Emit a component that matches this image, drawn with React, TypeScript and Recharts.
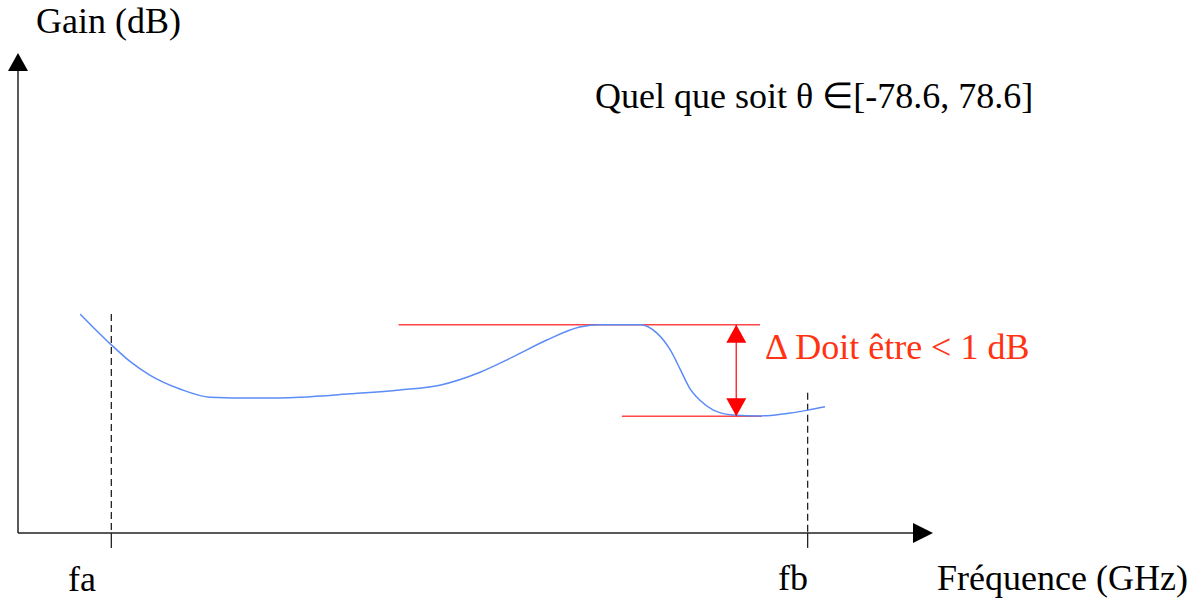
import { LineChart, Line, XAxis, YAxis, ReferenceLine, ReferenceDot } from "recharts";

// schematic gain curve, arbitrary units (frequency 0-100, gain 0-100)
const freq = [6.8, 10.2, 12.2, 14.4, 17.7, 21.0, 26.4, 30.8, 36.3, 41.7, 46.1, 50.5, 54.1, 57.8, 61.4, 63.6, 68.0, 69.8, 71.3, 72.4, 73.4, 74.5, 76.0, 78.1, 81.1, 84.4, 86.3, 88.2];
const gain = [45.6, 39.2, 35.8, 32.9, 30.0, 28.3, 28.1, 28.3, 29.0, 29.8, 30.8, 33.5, 36.7, 40.2, 42.9, 43.4, 43.4, 41.7, 38.1, 34.0, 30.2, 27.7, 25.6, 24.6, 24.4, 25.0, 25.6, 26.3];

const fa = 10.2;
const fb = 86.3;
const faTop = 45.6;
const fbTop = 29.2;
const gainMax = 43.4;
const gainMin = 24.3;
const maxLine = [41.6, 81.1];
const minLine = [66.0, 81.3];
const deltaX = 78.5;

const data = freq.map((f, i) => ({ f, g: gain[i] }));

const font = "'Liberation Serif', 'Times New Roman', serif";

const upArrow = (color: string) => (p: any) => (
  <polygon points={`${p.cx},${p.cy} ${p.cx - 10},${p.cy + 18} ${p.cx + 10},${p.cy + 18}`} fill={color} />
);
const downArrow = (color: string) => (p: any) => (
  <polygon points={`${p.cx},${p.cy} ${p.cx - 10},${p.cy - 18} ${p.cx + 10},${p.cy - 18}`} fill={color} />
);
const rightArrow = (color: string) => (p: any) => (
  <polygon points={`${p.cx},${p.cy} ${p.cx - 20},${p.cy - 10} ${p.cx - 20},${p.cy + 10}`} fill={color} />
);

export default function App() {
  return (
    <div style={{ position: "absolute", left: 0, top: 0, background: "#fff" }}>
      <LineChart width={1200} height={600} data={data} margin={{ top: 53, right: 267, bottom: 67, left: 18 }}>
        <XAxis type="number" dataKey="f" domain={[0, 100]} hide />
        <YAxis type="number" domain={[0, 100]} hide />

        {/* axes */}
        <ReferenceLine segment={[{ x: 0, y: 0 }, { x: 99, y: 0 }]} stroke="#222" strokeWidth={1.5} ifOverflow="visible" />
        <ReferenceLine segment={[{ x: 0, y: 0 }, { x: 0, y: 98 }]} stroke="#222" strokeWidth={1.5} ifOverflow="visible" />
        <ReferenceDot x={0} y={100} r={1} shape={upArrow("#000")} ifOverflow="visible" />
        <ReferenceDot x={100} y={0} r={1} shape={rightArrow("#000")} ifOverflow="visible" />

        {/* fa / fb markers */}
        <ReferenceLine segment={[{ x: fa, y: faTop }, { x: fa, y: 0 }]} stroke="#222" strokeDasharray="7 4" strokeWidth={1.3} ifOverflow="visible" />
        <ReferenceLine segment={[{ x: fb, y: fbTop }, { x: fb, y: 0 }]} stroke="#222" strokeDasharray="7 4" strokeWidth={1.3} ifOverflow="visible" />
        <ReferenceLine segment={[{ x: fa, y: 0 }, { x: fa, y: -3.1 }]} stroke="#222" strokeWidth={1.3} ifOverflow="visible" />
        <ReferenceLine segment={[{ x: fb, y: 0 }, { x: fb, y: -3.1 }]} stroke="#222" strokeWidth={1.3} ifOverflow="visible" />

        {/* max / min levels */}
        <ReferenceLine segment={[{ x: maxLine[0], y: gainMax }, { x: maxLine[1], y: gainMax }]} stroke="#ff4545" strokeWidth={1.5} ifOverflow="visible" />
        <ReferenceLine segment={[{ x: minLine[0], y: gainMin }, { x: minLine[1], y: gainMin }]} stroke="#ff4545" strokeWidth={1.5} ifOverflow="visible" />

        <Line type="monotone" dataKey="g" stroke="#5b8cf7" strokeWidth={1.5} dot={false} isAnimationActive={false} />

        {/* delta arrow */}
        <ReferenceLine segment={[{ x: deltaX, y: gainMax }, { x: deltaX, y: gainMin }]} stroke="#ff3030" strokeWidth={1.5} ifOverflow="visible" />
        <ReferenceDot x={deltaX} y={gainMax} r={1} shape={upArrow("#ff0000")} ifOverflow="visible" />
        <ReferenceDot x={deltaX} y={gainMin} r={1} shape={downArrow("#ff0000")} ifOverflow="visible" />

        <text x={36} y={33} fontFamily={font} fontSize={36} fill="#000">Gain (dB)</text>
        <text x={595} y={108} fontFamily={font} fontSize={36} fill="#000">Quel que soit θ ∈[-78.6, 78.6]</text>
        <text x={765} y={359} fontFamily={font} fontSize={36} fill="#ff3311">Δ Doit être &lt; 1 dB</text>
        <text x={68} y={591} fontFamily={font} fontSize={36} fill="#000">fa</text>
        <text x={778} y={590} fontFamily={font} fontSize={36} fill="#000">fb</text>
        <text x={937} y={590} fontFamily={font} fontSize={36} fill="#000">Fréquence (GHz)</text>
      </LineChart>
    </div>
  );
}
